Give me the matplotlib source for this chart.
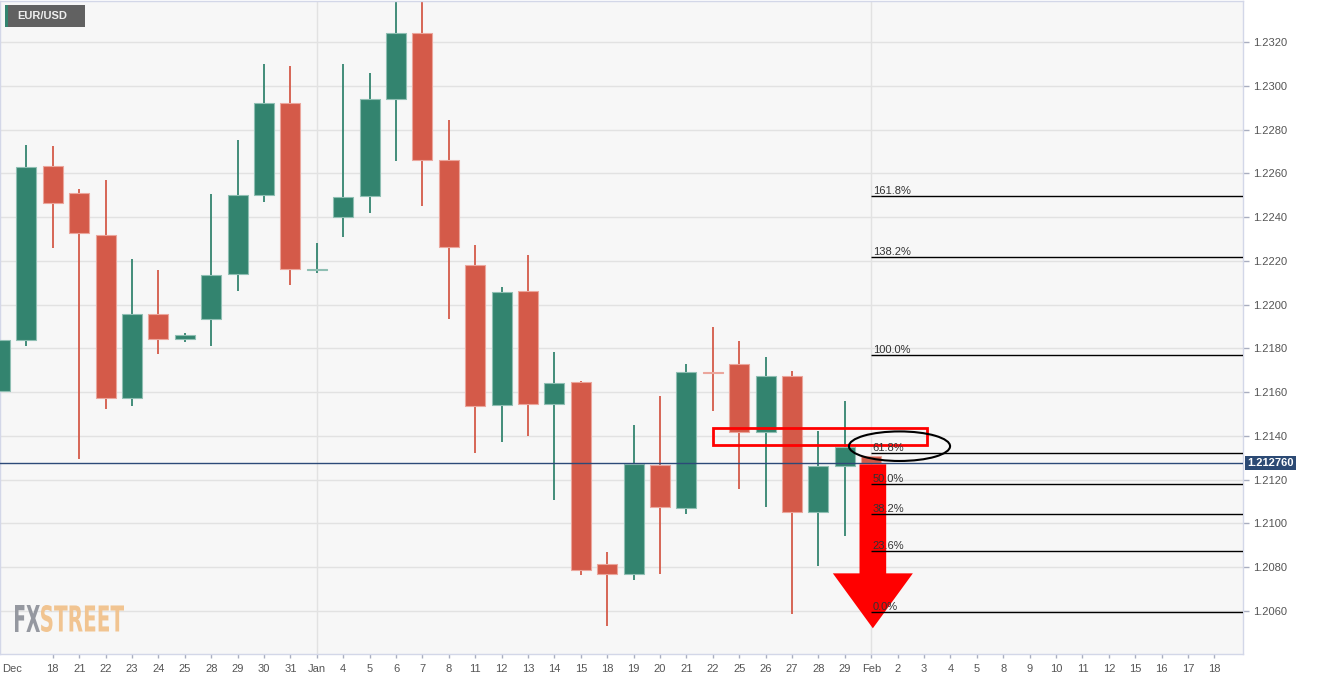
import matplotlib
matplotlib.use('Agg')
import matplotlib.pyplot as plt
from matplotlib.patches import Rectangle, Ellipse, Polygon, PathPatch
from matplotlib.textpath import TextPath
from matplotlib.font_manager import FontProperties
from matplotlib.transforms import Affine2D, IdentityTransform, blended_transform_factory

plt.rcParams['font.family'] = ['Liberation Sans', 'DejaVu Sans']

# trading days shown on the x axis (Dec 16 .. Feb 18)
day_labels = ['16', '17', '18', '21', '22', '23', '24', '25', '28', '29', '30', '31',
              'Jan', '4', '5', '6', '7', '8', '11', '12', '13', '14', '15', '18', '19',
              '20', '21', '22', '25', '26', '27', '28', '29',
              'Feb', '2', '3', '4', '5', '8', '9', '10', '11', '12', '15', '16', '17', '18']

# daily EUR/USD candles, Dec 16 .. Feb 1
opens = [1.21607, 1.21838, 1.22635, 1.22509, 1.22318, 1.21572, 1.21957, 1.21843,
         1.21933, 1.22140, 1.22502, 1.22921, 1.22157, 1.22401, 1.22495, 1.22940,
         1.23243, 1.22660, 1.22181, 1.21540, 1.22062, 1.21547, 1.21647, 1.20814,
         1.20769, 1.21269, 1.21072, 1.21692, 1.21730, 1.21417, 1.21674, 1.21053,
         1.21264, 1.21306]
highs = [1.22123, 1.22729, 1.22725, 1.22528, 1.22570, 1.22209, 1.22158, 1.21871,
         1.22506, 1.22752, 1.23100, 1.23090, 1.22282, 1.23100, 1.23058, 1.23400,
         1.23450, 1.22844, 1.22273, 1.22081, 1.22227, 1.21784, 1.21650, 1.20870,
         1.21450, 1.21581, 1.21729, 1.21897, 1.21833, 1.21759, 1.21697, 1.21423,
         1.21560, 1.21310]
lows = [1.21254, 1.21812, 1.22257, 1.21296, 1.21523, 1.21537, 1.21776, 1.21829,
        1.21812, 1.22064, 1.22470, 1.22090, 1.22146, 1.22310, 1.22420, 1.22656,
        1.22452, 1.21933, 1.21324, 1.21374, 1.21401, 1.21107, 1.20764, 1.20533,
        1.20742, 1.20771, 1.21045, 1.21515, 1.21159, 1.21077, 1.20585, 1.20807,
        1.20944, 1.21270]
closes = [1.21838, 1.22628, 1.22464, 1.22326, 1.21572, 1.21957, 1.21843, 1.21861,
          1.22137, 1.22502, 1.22920, 1.22164, 1.22163, 1.22493, 1.22938, 1.23241,
          1.22660, 1.22265, 1.21537, 1.22058, 1.21547, 1.21643, 1.20786, 1.20769,
          1.21272, 1.21074, 1.21692, 1.21688, 1.21420, 1.21674, 1.21053, 1.21261,
          1.21350, 1.21276]

price_ticks = [1.2060, 1.2080, 1.2100, 1.2120, 1.2140, 1.2160, 1.2180,
               1.2200, 1.2220, 1.2240, 1.2260, 1.2280, 1.2300, 1.2320]
last_price = 1.212760

fib_labels = ['161.8%', '138.2%', '100.0%', '61.8%', '50.0%', '38.2%', '23.6%', '0.0%']
fib_prices = [1.22497, 1.22219, 1.21770, 1.21321, 1.21182, 1.21043, 1.20872, 1.20594]
fib_start = 33

# drawn annotations (day index, price)
zone_x = [27.0, 35.1]
zone_y = [1.21358, 1.21436]
ring_xy = (34.07, 1.21353)
ring_size = (3.83, 0.00135)
arrow_x = 33.06
arrow_y = [1.21270, 1.20772, 1.20521]   # shaft top, head base, tip

green = '#33846f'
red = '#d45a49'

W, H = 1319, 677
fig = plt.figure(figsize=(W / 100, H / 100), dpi=100)
fig.patch.set_facecolor('white')
ax = fig.add_axes([0, (H - 654) / H, 1243 / W, 653 / H])
ax.set_facecolor('#f7f7f7')
ax.set_xlim(0, 47.08)
ax.set_ylim(1.204035, 1.233873)

# grid
ax.set_yticks(price_ticks)
ax.set_yticklabels(['%.4f' % p for p in price_ticks])
ax.grid(axis='y', color='#e2e2e2', lw=1, zorder=0)
for m in (day_labels.index('Jan'), day_labels.index('Feb')):
    ax.axvline(m, color='#e2e2e2', lw=1, zorder=0)

# candles
for i in range(len(opens)):
    o, h, l, c = opens[i], highs[i], lows[i], closes[i]
    col = green if c >= o else red
    edge = '#8fbfb3' if c >= o else '#eba69c'
    ax.vlines(i, l, h, color=col, lw=1.3, zorder=2)
    lo, hi = min(o, c), max(o, c)
    ax.bar(i, max(hi - lo, 0.00003), bottom=lo, width=0.76, color=col,
           edgecolor=edge, lw=0.8, zorder=3)

# last price line
ax.axhline(last_price, color='#2c4a78', lw=1, zorder=4)
tr = blended_transform_factory(ax.transAxes, ax.transData)
ax.text(1.0035, last_price, '%.6f' % last_price, transform=tr, va='center', ha='left',
        color='white', fontsize=8, fontweight='bold', clip_on=False, zorder=10,
        bbox=dict(boxstyle='square,pad=0.22', fc='#2c4a74', ec='none'))

# annotations
ax.add_patch(Polygon([(arrow_x - 0.505, arrow_y[0]), (arrow_x + 0.505, arrow_y[0]),
                      (arrow_x + 0.505, arrow_y[1]), (arrow_x + 1.515, arrow_y[1]),
                      (arrow_x, arrow_y[2]), (arrow_x - 1.515, arrow_y[1]),
                      (arrow_x - 0.505, arrow_y[1])],
                     closed=True, fc='#ff0000', ec='none', zorder=5))
ax.add_patch(Rectangle((zone_x[0], zone_y[0]), zone_x[1] - zone_x[0], zone_y[1] - zone_y[0],
                       fill=False, ec='#ff0000', lw=2, zorder=6))
ax.add_patch(Ellipse(ring_xy, ring_size[0], ring_size[1], fill=False, ec='black',
                     lw=1.5, zorder=6))

# fibonacci levels
for lab, p in zip(fib_labels, fib_prices):
    ax.hlines(p, fib_start, 47.08, color='black', lw=1, zorder=7)
    ax.annotate(lab, (fib_start, p), xytext=(1, 1.5), textcoords='offset points',
                va='baseline', ha='left', fontsize=8, color='#333333', zorder=8)

# axes styling
ax.yaxis.tick_right()
ax.tick_params(axis='y', length=4, width=1, color='#a9aec0', labelsize=8,
               labelcolor='#555555', pad=3)
xt = [0.45] + list(range(2, len(day_labels)))
ax.set_xticks(xt)
ax.set_xticklabels(['Dec'] + day_labels[2:])
ax.tick_params(axis='x', length=3, width=1, color='#a9aec0', labelsize=8,
               labelcolor='#555555', pad=4)
ax.xaxis.get_major_ticks()[0].tick1line.set_visible(False)
for s in ax.spines.values():
    s.set_color('#d3d7e8')
    s.set_linewidth(1)

# symbol tag
fig.add_artist(Rectangle((5 / W, 1 - 27 / H), 80 / W, 22 / H, transform=fig.transFigure,
                         fc='#616161', ec='none'))
fig.add_artist(Rectangle((5 / W, 1 - 27 / H), 3 / W, 22 / H, transform=fig.transFigure,
                         fc=green, ec='none'))
fig.text(17 / W, 1 - 16 / H, 'EUR/USD', color='#eeeeee', fontsize=8, fontweight='bold',
         va='center', ha='left')

# watermark logo
fp = FontProperties(family=['Liberation Sans Narrow', 'DejaVu Sans'], weight='bold')


def logo_word(s, x0, x1, y0, y1, color):
    path = TextPath((0, 0), s, size=100, prop=fp)
    ext = path.get_extents()
    t = Affine2D().translate(-ext.x0, -ext.y0).scale((x1 - x0) / ext.width,
                                                     (y1 - y0) / ext.height).translate(x0, H - y1)
    fig.add_artist(PathPatch(t.transform_path(path), transform=IdentityTransform(),
                             fc=color, ec='none', alpha=0.95))


logo_word('FX', 15, 40, 605, 632, '#90939b')
logo_word('STREET', 41, 124, 605, 632, '#f1c28c')

fig.savefig('out.png', dpi=100, facecolor='white')
